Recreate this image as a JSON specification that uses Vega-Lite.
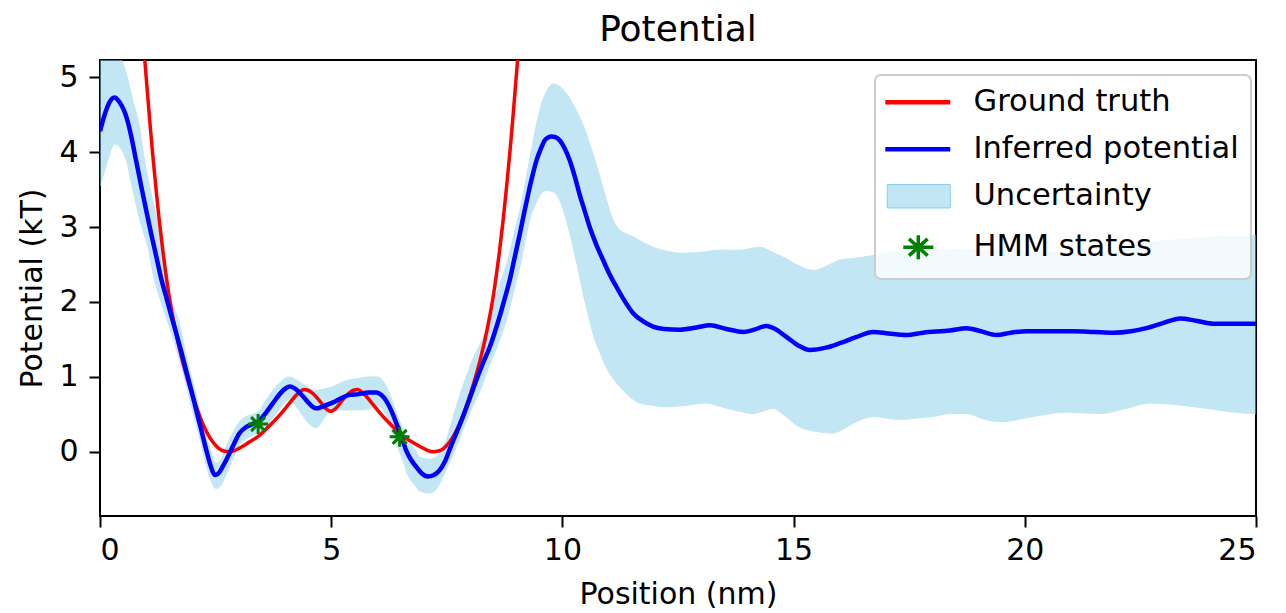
{
  "$schema": "https://vega.github.io/schema/vega-lite/v6.json",
  "width": 1156,
  "height": 456,
  "autosize": {"type": "none"},
  "padding": {"left": 100, "top": 60, "right": 30, "bottom": 97},
  "config": {
    "font": "DejaVu Sans",
    "view": {"stroke": "#000000", "strokeWidth": 2},
    "axis": {
      "grid": false, "domain": false, "tickColor": "#000000", "tickWidth": 2, "tickSize": 11,
      "labelColor": "#000000", "labelFontSize": 30, "labelFont": "DejaVu Sans",
      "titleColor": "#000000", "titleFontSize": 30, "titleFont": "DejaVu Sans", "titleFontWeight": "normal"
    }
  },
  "title": {"text": "Potential", "fontSize": 36, "font": "DejaVu Sans", "fontWeight": "normal", "color": "#000000", "anchor": "middle", "baseline": "alphabetic", "offset": 20, "dy": 37},
  "datasets": {
    "truth": [
      {"x": 0.90, "y": 5.78}, {"x": 0.96, "y": 5.30}, {"x": 1.02, "y": 4.84}, {"x": 1.08, "y": 4.39}, {"x": 1.14, "y": 3.97},
      {"x": 1.21, "y": 3.52}, {"x": 1.28, "y": 3.10}, {"x": 1.36, "y": 2.68}, {"x": 1.43, "y": 2.35}, {"x": 1.50, "y": 2.06},
      {"x": 1.59, "y": 1.75}, {"x": 1.68, "y": 1.48}, {"x": 1.76, "y": 1.27}, {"x": 1.86, "y": 1.04}, {"x": 1.98, "y": 0.79},
      {"x": 2.10, "y": 0.57}, {"x": 2.22, "y": 0.38}, {"x": 2.32, "y": 0.25}, {"x": 2.44, "y": 0.13}, {"x": 2.56, "y": 0.05},
      {"x": 2.68, "y": 0.01}, {"x": 2.80, "y": 0.0}, {"x": 2.92, "y": 0.02}, {"x": 3.05, "y": 0.06}, {"x": 3.23, "y": 0.13},
      {"x": 3.45, "y": 0.22}, {"x": 3.67, "y": 0.35}, {"x": 3.90, "y": 0.50}, {"x": 4.10, "y": 0.65}, {"x": 4.25, "y": 0.76},
      {"x": 4.42, "y": 0.83}, {"x": 4.58, "y": 0.79}, {"x": 4.75, "y": 0.68}, {"x": 4.88, "y": 0.58}, {"x": 4.99, "y": 0.54},
      {"x": 5.10, "y": 0.58}, {"x": 5.23, "y": 0.68}, {"x": 5.40, "y": 0.79}, {"x": 5.56, "y": 0.83}, {"x": 5.73, "y": 0.76},
      {"x": 5.88, "y": 0.65}, {"x": 6.08, "y": 0.50}, {"x": 6.31, "y": 0.35}, {"x": 6.53, "y": 0.22}, {"x": 6.75, "y": 0.13},
      {"x": 6.95, "y": 0.06}, {"x": 7.08, "y": 0.02}, {"x": 7.20, "y": 0.0}, {"x": 7.32, "y": 0.01}, {"x": 7.44, "y": 0.05},
      {"x": 7.56, "y": 0.13}, {"x": 7.68, "y": 0.25}, {"x": 7.78, "y": 0.38}, {"x": 7.90, "y": 0.57}, {"x": 8.02, "y": 0.79},
      {"x": 8.14, "y": 1.04}, {"x": 8.24, "y": 1.27}, {"x": 8.32, "y": 1.48}, {"x": 8.41, "y": 1.75}, {"x": 8.50, "y": 2.06},
      {"x": 8.57, "y": 2.35}, {"x": 8.64, "y": 2.68}, {"x": 8.72, "y": 3.10}, {"x": 8.79, "y": 3.52}, {"x": 8.86, "y": 3.97},
      {"x": 8.92, "y": 4.39}, {"x": 8.98, "y": 4.84}, {"x": 9.04, "y": 5.30}, {"x": 9.10, "y": 5.78}
    ],
    "inferred": [
      {"x": 0.0, "y": 4.28}, {"x": 0.1, "y": 4.50}, {"x": 0.2, "y": 4.66}, {"x": 0.31, "y": 4.73}, {"x": 0.42, "y": 4.67},
      {"x": 0.57, "y": 4.47}, {"x": 0.68, "y": 4.20}, {"x": 0.78, "y": 3.89}, {"x": 0.9, "y": 3.52}, {"x": 1.0, "y": 3.22},
      {"x": 1.11, "y": 2.90}, {"x": 1.22, "y": 2.60}, {"x": 1.32, "y": 2.32}, {"x": 1.43, "y": 2.07}, {"x": 1.54, "y": 1.82},
      {"x": 1.65, "y": 1.58}, {"x": 1.76, "y": 1.33}, {"x": 1.86, "y": 1.09}, {"x": 1.97, "y": 0.83}, {"x": 2.08, "y": 0.56},
      {"x": 2.19, "y": 0.29}, {"x": 2.30, "y": 0.02}, {"x": 2.40, "y": -0.20}, {"x": 2.48, "y": -0.31}, {"x": 2.56, "y": -0.29},
      {"x": 2.65, "y": -0.20}, {"x": 2.73, "y": -0.11}, {"x": 2.87, "y": 0.07}, {"x": 3.02, "y": 0.25}, {"x": 3.16, "y": 0.33},
      {"x": 3.30, "y": 0.37}, {"x": 3.45, "y": 0.42}, {"x": 3.60, "y": 0.53}, {"x": 3.74, "y": 0.65}, {"x": 3.90, "y": 0.78},
      {"x": 4.00, "y": 0.84}, {"x": 4.10, "y": 0.87}, {"x": 4.20, "y": 0.85}, {"x": 4.30, "y": 0.80}, {"x": 4.39, "y": 0.74},
      {"x": 4.50, "y": 0.66}, {"x": 4.60, "y": 0.60}, {"x": 4.68, "y": 0.58}, {"x": 4.80, "y": 0.60}, {"x": 4.92, "y": 0.63},
      {"x": 5.04, "y": 0.66}, {"x": 5.20, "y": 0.71}, {"x": 5.40, "y": 0.76}, {"x": 5.60, "y": 0.77}, {"x": 5.80, "y": 0.79},
      {"x": 5.98, "y": 0.79}, {"x": 6.08, "y": 0.76}, {"x": 6.19, "y": 0.68}, {"x": 6.30, "y": 0.55}, {"x": 6.41, "y": 0.38},
      {"x": 6.52, "y": 0.20}, {"x": 6.62, "y": 0.02}, {"x": 6.74, "y": -0.12}, {"x": 6.84, "y": -0.20}, {"x": 6.96, "y": -0.29},
      {"x": 7.09, "y": -0.33}, {"x": 7.22, "y": -0.31}, {"x": 7.35, "y": -0.24}, {"x": 7.46, "y": -0.13}, {"x": 7.58, "y": 0.06},
      {"x": 7.72, "y": 0.27}, {"x": 7.87, "y": 0.50}, {"x": 8.00, "y": 0.72}, {"x": 8.14, "y": 0.96}, {"x": 8.28, "y": 1.18},
      {"x": 8.43, "y": 1.40}, {"x": 8.54, "y": 1.60}, {"x": 8.64, "y": 1.80}, {"x": 8.75, "y": 2.04}, {"x": 8.86, "y": 2.29},
      {"x": 8.97, "y": 2.60}, {"x": 9.08, "y": 2.91}, {"x": 9.17, "y": 3.18}, {"x": 9.26, "y": 3.44}, {"x": 9.35, "y": 3.68},
      {"x": 9.44, "y": 3.89}, {"x": 9.53, "y": 4.04}, {"x": 9.62, "y": 4.16}, {"x": 9.70, "y": 4.20}, {"x": 9.76, "y": 4.21},
      {"x": 9.85, "y": 4.20}, {"x": 9.94, "y": 4.16}, {"x": 10.05, "y": 4.05}, {"x": 10.16, "y": 3.89}, {"x": 10.27, "y": 3.67},
      {"x": 10.37, "y": 3.44}, {"x": 10.48, "y": 3.22}, {"x": 10.59, "y": 3.00}, {"x": 10.73, "y": 2.77}, {"x": 10.88, "y": 2.56},
      {"x": 11.02, "y": 2.37}, {"x": 11.17, "y": 2.20}, {"x": 11.35, "y": 2.01}, {"x": 11.53, "y": 1.85}, {"x": 11.75, "y": 1.74},
      {"x": 11.96, "y": 1.67}, {"x": 12.20, "y": 1.64}, {"x": 12.54, "y": 1.63}, {"x": 12.90, "y": 1.66}, {"x": 13.19, "y": 1.69},
      {"x": 13.55, "y": 1.64}, {"x": 13.91, "y": 1.60}, {"x": 14.15, "y": 1.63}, {"x": 14.41, "y": 1.68}, {"x": 14.60, "y": 1.64},
      {"x": 14.85, "y": 1.53}, {"x": 15.10, "y": 1.42}, {"x": 15.35, "y": 1.36}, {"x": 15.70, "y": 1.39}, {"x": 16.00, "y": 1.45},
      {"x": 16.35, "y": 1.53}, {"x": 16.72, "y": 1.60}, {"x": 17.05, "y": 1.58}, {"x": 17.44, "y": 1.56}, {"x": 17.80, "y": 1.59},
      {"x": 18.38, "y": 1.62}, {"x": 18.74, "y": 1.65}, {"x": 19.05, "y": 1.61}, {"x": 19.39, "y": 1.56}, {"x": 19.70, "y": 1.59},
      {"x": 20.04, "y": 1.61}, {"x": 20.50, "y": 1.61}, {"x": 21.05, "y": 1.61}, {"x": 21.50, "y": 1.60}, {"x": 21.91, "y": 1.59},
      {"x": 22.30, "y": 1.61}, {"x": 22.63, "y": 1.65}, {"x": 23.00, "y": 1.72}, {"x": 23.36, "y": 1.78}, {"x": 23.70, "y": 1.75},
      {"x": 24.08, "y": 1.71}, {"x": 24.50, "y": 1.71}, {"x": 25.0, "y": 1.71}
    ],
    "band": [
      {"x": 0.00, "lo": 3.55, "hi": 5.40}, {"x": 0.15, "lo": 3.85, "hi": 5.50}, {"x": 0.31, "lo": 4.11, "hi": 5.45},
      {"x": 0.45, "lo": 4.05, "hi": 5.25}, {"x": 0.57, "lo": 3.89, "hi": 5.05}, {"x": 0.71, "lo": 3.50, "hi": 4.69},
      {"x": 0.85, "lo": 3.13, "hi": 4.35}, {"x": 0.93, "lo": 2.95, "hi": 4.02}, {"x": 1.05, "lo": 2.70, "hi": 3.60},
      {"x": 1.14, "lo": 2.40, "hi": 3.35}, {"x": 1.22, "lo": 2.20, "hi": 3.13}, {"x": 1.32, "lo": 2.00, "hi": 2.70},
      {"x": 1.43, "lo": 1.80, "hi": 2.33}, {"x": 1.55, "lo": 1.58, "hi": 2.02}, {"x": 1.72, "lo": 1.22, "hi": 1.71},
      {"x": 1.86, "lo": 0.90, "hi": 1.28}, {"x": 2.00, "lo": 0.55, "hi": 0.95}, {"x": 2.15, "lo": 0.20, "hi": 0.58},
      {"x": 2.30, "lo": -0.18, "hi": 0.20}, {"x": 2.40, "lo": -0.38, "hi": 0.00}, {"x": 2.51, "lo": -0.49, "hi": -0.15},
      {"x": 2.60, "lo": -0.46, "hi": -0.12}, {"x": 2.73, "lo": -0.30, "hi": 0.07}, {"x": 2.87, "lo": -0.10, "hi": 0.25},
      {"x": 3.02, "lo": 0.10, "hi": 0.40}, {"x": 3.16, "lo": 0.18, "hi": 0.47}, {"x": 3.30, "lo": 0.22, "hi": 0.50},
      {"x": 3.45, "lo": 0.24, "hi": 0.55}, {"x": 3.60, "lo": 0.35, "hi": 0.70}, {"x": 3.80, "lo": 0.50, "hi": 0.86},
      {"x": 4.00, "lo": 0.66, "hi": 0.98}, {"x": 4.10, "lo": 0.70, "hi": 1.00}, {"x": 4.25, "lo": 0.60, "hi": 0.96},
      {"x": 4.40, "lo": 0.47, "hi": 0.90}, {"x": 4.55, "lo": 0.36, "hi": 0.84}, {"x": 4.68, "lo": 0.32, "hi": 0.82},
      {"x": 4.85, "lo": 0.45, "hi": 0.84}, {"x": 5.00, "lo": 0.55, "hi": 0.86}, {"x": 5.20, "lo": 0.56, "hi": 0.92},
      {"x": 5.40, "lo": 0.56, "hi": 0.96}, {"x": 5.60, "lo": 0.56, "hi": 0.98}, {"x": 5.80, "lo": 0.57, "hi": 1.00},
      {"x": 6.00, "lo": 0.62, "hi": 1.00}, {"x": 6.10, "lo": 0.58, "hi": 0.96}, {"x": 6.26, "lo": 0.35, "hi": 0.78},
      {"x": 6.41, "lo": 0.10, "hi": 0.52}, {"x": 6.55, "lo": -0.11, "hi": 0.30}, {"x": 6.62, "lo": -0.25, "hi": 0.20},
      {"x": 6.84, "lo": -0.47, "hi": 0.00}, {"x": 6.91, "lo": -0.52, "hi": -0.07}, {"x": 7.13, "lo": -0.55, "hi": -0.10},
      {"x": 7.27, "lo": -0.50, "hi": -0.07}, {"x": 7.35, "lo": -0.42, "hi": -0.02}, {"x": 7.50, "lo": -0.22, "hi": 0.18},
      {"x": 7.63, "lo": -0.04, "hi": 0.45}, {"x": 7.78, "lo": 0.18, "hi": 0.75}, {"x": 7.92, "lo": 0.40, "hi": 1.00},
      {"x": 8.07, "lo": 0.62, "hi": 1.25}, {"x": 8.21, "lo": 0.80, "hi": 1.42}, {"x": 8.40, "lo": 1.12, "hi": 1.72},
      {"x": 8.60, "lo": 1.42, "hi": 2.15}, {"x": 8.79, "lo": 1.76, "hi": 2.50}, {"x": 9.00, "lo": 2.28, "hi": 3.02},
      {"x": 9.08, "lo": 2.47, "hi": 3.22}, {"x": 9.29, "lo": 3.09, "hi": 3.89}, {"x": 9.45, "lo": 3.35, "hi": 4.40},
      {"x": 9.51, "lo": 3.42, "hi": 4.56}, {"x": 9.65, "lo": 3.49, "hi": 4.80}, {"x": 9.80, "lo": 3.47, "hi": 4.91},
      {"x": 9.94, "lo": 3.36, "hi": 4.88}, {"x": 10.09, "lo": 3.08, "hi": 4.78}, {"x": 10.23, "lo": 2.73, "hi": 4.64},
      {"x": 10.37, "lo": 2.35, "hi": 4.47}, {"x": 10.45, "lo": 2.11, "hi": 4.36}, {"x": 10.59, "lo": 1.75, "hi": 4.11},
      {"x": 10.66, "lo": 1.58, "hi": 3.98}, {"x": 10.81, "lo": 1.33, "hi": 3.67}, {"x": 10.95, "lo": 1.13, "hi": 3.37},
      {"x": 11.02, "lo": 1.05, "hi": 3.22}, {"x": 11.24, "lo": 0.87, "hi": 2.96}, {"x": 11.31, "lo": 0.82, "hi": 2.93},
      {"x": 11.53, "lo": 0.70, "hi": 2.87}, {"x": 11.67, "lo": 0.65, "hi": 2.82}, {"x": 11.96, "lo": 0.62, "hi": 2.73},
      {"x": 12.25, "lo": 0.60, "hi": 2.68}, {"x": 12.54, "lo": 0.61, "hi": 2.65}, {"x": 13.12, "lo": 0.65, "hi": 2.67},
      {"x": 13.33, "lo": 0.62, "hi": 2.69}, {"x": 13.69, "lo": 0.56, "hi": 2.69}, {"x": 13.84, "lo": 0.54, "hi": 2.69},
      {"x": 14.12, "lo": 0.51, "hi": 2.72}, {"x": 14.27, "lo": 0.53, "hi": 2.73}, {"x": 14.56, "lo": 0.58, "hi": 2.66},
      {"x": 14.77, "lo": 0.50, "hi": 2.60}, {"x": 15.13, "lo": 0.33, "hi": 2.48}, {"x": 15.42, "lo": 0.28, "hi": 2.42},
      {"x": 15.85, "lo": 0.25, "hi": 2.52}, {"x": 16.00, "lo": 0.28, "hi": 2.56}, {"x": 16.29, "lo": 0.38, "hi": 2.58},
      {"x": 16.72, "lo": 0.47, "hi": 2.62}, {"x": 17.30, "lo": 0.43, "hi": 2.69}, {"x": 17.66, "lo": 0.45, "hi": 2.70},
      {"x": 18.02, "lo": 0.47, "hi": 2.70}, {"x": 18.38, "lo": 0.51, "hi": 2.70}, {"x": 18.74, "lo": 0.51, "hi": 2.70},
      {"x": 19.10, "lo": 0.44, "hi": 2.69}, {"x": 19.46, "lo": 0.40, "hi": 2.69}, {"x": 20.18, "lo": 0.47, "hi": 2.67},
      {"x": 20.90, "lo": 0.53, "hi": 2.66}, {"x": 21.62, "lo": 0.51, "hi": 2.65}, {"x": 22.20, "lo": 0.58, "hi": 2.72},
      {"x": 22.70, "lo": 0.65, "hi": 2.80}, {"x": 23.07, "lo": 0.64, "hi": 2.82}, {"x": 23.43, "lo": 0.62, "hi": 2.84},
      {"x": 24.15, "lo": 0.56, "hi": 2.87}, {"x": 24.50, "lo": 0.53, "hi": 2.87}, {"x": 25.00, "lo": 0.51, "hi": 2.89}
    ],
    "hmm": [
      {"x": 3.42, "y": 0.37}, {"x": 6.48, "y": 0.20}
    ]
  },
  "layer": [
    {
      "data": {"name": "band"},
      "mark": {"type": "area", "clip": true, "color": "#87ceeb", "opacity": 0.5, "interpolate": "monotone", "stroke": "#87ceeb", "strokeWidth": 1},
      "encoding": {
        "x": {"field": "x", "type": "quantitative", "scale": {"domain": [0, 25], "nice": false, "zero": false},
              "axis": {"values": [0, 5, 10, 15, 20, 25], "title": "Position (nm)", "labelPadding": 8, "titlePadding": 14}},
        "y": {"field": "hi", "type": "quantitative", "scale": {"domain": [-0.857, 5.23], "nice": false, "zero": false},
              "axis": {"values": [0, 1, 2, 3, 4, 5], "format": "d", "title": "Potential (kT)", "labelPadding": 11, "titlePadding": 11}},
        "y2": {"field": "lo"}
      }
    },
    {
      "data": {"name": "truth"},
      "mark": {"type": "line", "clip": true, "strokeWidth": 3.5, "interpolate": "monotone"},
      "encoding": {
        "x": {"field": "x", "type": "quantitative"},
        "y": {"field": "y", "type": "quantitative"},
        "color": {
          "datum": "Ground truth",
          "scale": {"domain": ["Ground truth", "Inferred potential", "Uncertainty", "HMM states"], "range": ["#ff0000", "#0000ff", "#87ceeb", "#008000"]},
          "legend": {
            "title": null, "orient": "none", "legendX": 775, "legendY": 15,
            "padding": 12, "strokeColor": "#cccccc", "fillColor": "rgba(255,255,255,0.8)", "cornerRadius": 6,
            "labelFontSize": 30.5, "labelFont": "DejaVu Sans", "labelColor": "#000000", "labelLimit": 0,
            "symbolSize": 900, "labelOffset": 56, "rowPadding": 16, "gridAlign": "none",
            "encode": {
              "legend": {"update": {"strokeWidth": {"value": 2}}},
              "symbols": {"update": {
                "shape": {"signal": "datum.value === 'Uncertainty' ? 'M-1,-0.78H3.2V0.78H-1Z' : datum.value === 'HMM states' ? 'M1.07,-0.8V0.8M0.07,0H2.07M0.45,-0.56L1.69,0.56M0.45,0.56L1.69,-0.56' : 'M-1.13,0H3.2'"},
                "fill": {"signal": "datum.value === 'Uncertainty' ? 'rgba(135,206,235,0.5)' : 'transparent'"},
                "stroke": {"signal": "datum.value === 'Ground truth' ? '#ff0000' : datum.value === 'Inferred potential' ? '#0000ff' : datum.value === 'Uncertainty' ? 'rgba(135,206,235,0.5)' : '#008000'"},
                "strokeWidth": {"signal": "datum.value === 'Uncertainty' ? 1 : datum.value === 'HMM states' ? 3.5 : 4.5"},
                "size": {"value": 900},
                "opacity": {"value": 1}
              }}
            }
          }
        }
      }
    },
    {
      "data": {"name": "inferred"},
      "mark": {"type": "line", "clip": true, "strokeWidth": 4.5, "interpolate": "monotone"},
      "encoding": {
        "x": {"field": "x", "type": "quantitative"},
        "y": {"field": "y", "type": "quantitative"},
        "color": {"datum": "Inferred potential"}
      }
    },
    {
      "data": {"name": "hmm"},
      "mark": {"type": "point", "clip": true, "filled": false, "color": "#008000", "strokeWidth": 3, "opacity": 1,
               "shape": "M0,-1V1M-1,0H1M-0.7,-0.7L0.7,0.7M-0.7,0.7L0.7,-0.7", "size": 400},
      "encoding": {
        "x": {"field": "x", "type": "quantitative"},
        "y": {"field": "y", "type": "quantitative"}
      }
    }
  ]
}
